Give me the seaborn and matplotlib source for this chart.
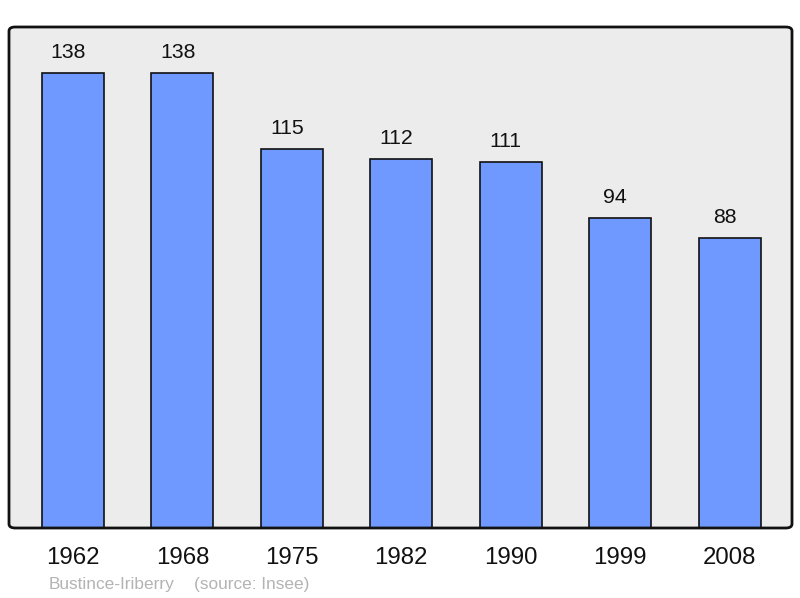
import pandas as pd
import matplotlib.pyplot as plt
import seaborn as sns
from matplotlib.patches import FancyBboxPatch

years = ["1962", "1968", "1975", "1982", "1990", "1999", "2008"]
population = [138, 138, 115, 112, 111, 94, 88]
commune = "Bustince-Iriberry"
source = "(source: Insee)"

df = pd.DataFrame({"year": years, "pop": population})

sns.set_style("white")
plt.rcParams['font.family'] = ['Liberation Sans', 'DejaVu Sans']

fig = plt.figure(figsize=(8, 5.98), dpi=100)
ax = fig.add_axes([9 / 800, 70 / 598, 783 / 800, 501 / 598])
ax.set_facecolor("#ececec")

sns.barplot(data=df, x="year", y="pop", color="#7099ff", saturation=1,
            width=0.567, edgecolor="#111111", linewidth=1.2, ax=ax)

# value labels above bars (sit a little left of bar centre, as in the original)
for i, v in enumerate(population):
    ax.annotate(str(v), (i, v), xytext=(-3.5, 15), textcoords="offset points",
                ha="center", va="center", fontsize=15.3, color="#111111")

ax.set_xlim(-0.585, 6.571)
ax.set_ylim(0, 152)
ax.set_yticks([])
ax.set_xlabel("")
ax.set_ylabel("")
ax.tick_params(axis="x", length=0, pad=13.5, labelsize=17.3, labelcolor="#111111")

# rounded frame
for s in ax.spines.values():
    s.set_visible(False)
frame = FancyBboxPatch((0, 0), 1, 1, boxstyle="round,pad=0,rounding_size=0.008",
                       transform=ax.transAxes, fill=False, edgecolor="#111111",
                       linewidth=2, clip_on=False, zorder=5)
ax.add_patch(frame)

fig.text(49 / 800, 1 - 585 / 598, commune, fontsize=12.4,
         color="#b3b3b3", ha="left", va="center")
fig.text(194 / 800, 1 - 585 / 598, source, fontsize=12.4,
         color="#b3b3b3", ha="left", va="center")

fig.savefig("out.png", dpi=100)
